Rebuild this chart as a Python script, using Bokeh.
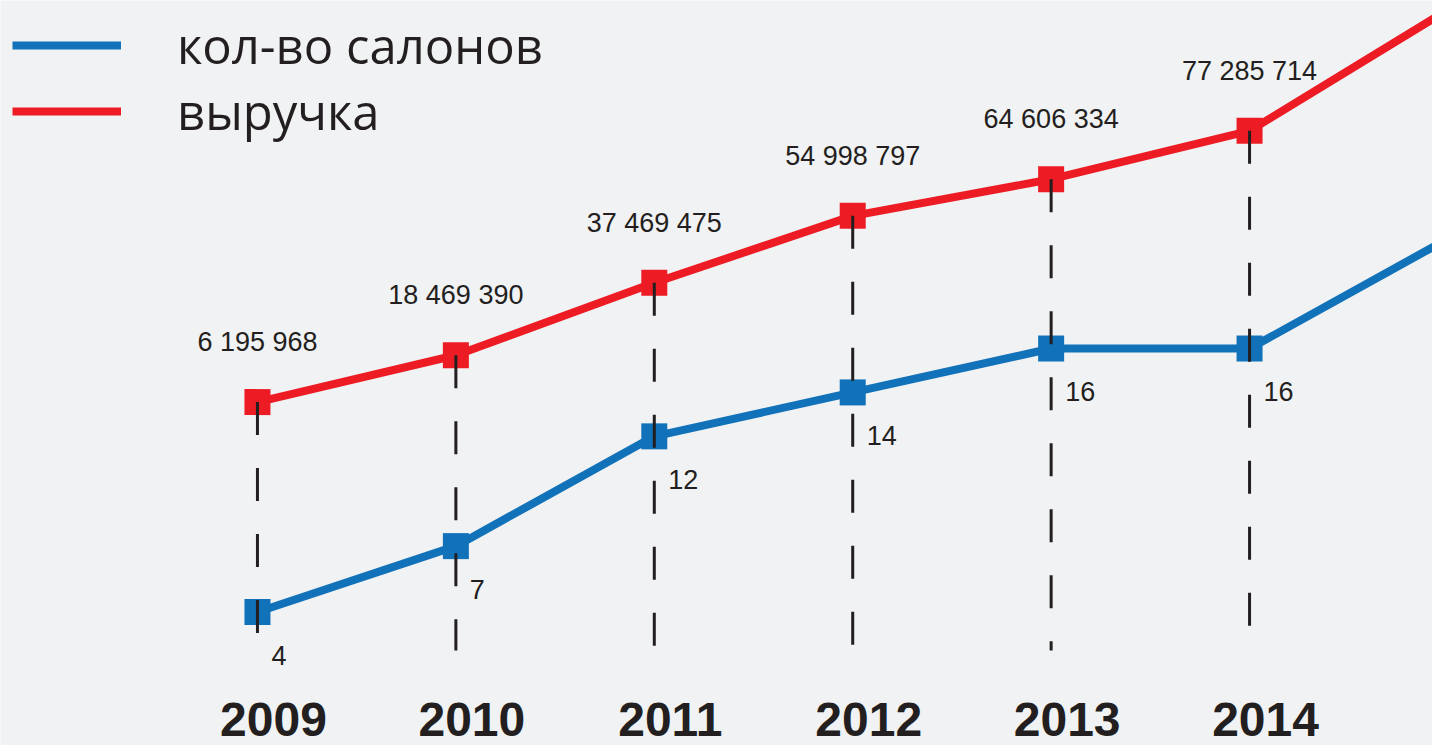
from bokeh.plotting import figure
from bokeh.models import Range1d, Legend, LegendItem
from bokeh.core.properties import value
from bokeh.embed import file_html
from bokeh.resources import INLINE

# ---- data ----
years = [2009, 2010, 2011, 2012, 2013, 2014]
salons = [4, 7, 12, 14, 16, 16]            # кол-во салонов
revenue = [6195968, 18469390, 37469475, 54998797, 64606334, 77285714]  # выручка
# both lines continue past the right edge; values estimated from the slope of the cut-off line
trend_year = 2015
salons_trend = 21
revenue_trend = 109000000
series_names = ["кол-во салонов", "выручка"]

# ---- style ----
BG = "#f1f2f4"
BLUE = "#1172ba"
RED = "#ed1c24"
DARK = "#231f20"

X_RANGE = (2007.705, 2014.922)
COUNT_RANGE = (-2.08, 31.85)
REV_RANGE = (-83.80e6, 111.44e6)
DASH_BOTTOM = -58.9e6

p = figure(width=1432, height=745, output_backend="svg", toolbar_location=None,
           x_range=Range1d(*X_RANGE), y_range=Range1d(*COUNT_RANGE),
           x_axis_location=None, y_axis_location=None, min_border=0,
           background_fill_color=BG, border_fill_color=BG, outline_line_color=None)
p.grid.visible = False
p.extra_y_ranges = {"rev": Range1d(*REV_RANGE)}

line_years = years + [trend_year]
blue_line = p.line(line_years, salons + [salons_trend], line_color=BLUE, line_width=8)
red_line = p.line(line_years, revenue + [revenue_trend], y_range_name="rev",
                  line_color=RED, line_width=8)
p.scatter(years, salons, marker="square", size=26, fill_color=BLUE, line_color=None)
p.scatter(years, revenue, marker="square", size=26, fill_color=RED, line_color=None,
          y_range_name="rev")

p.segment(x0=years, y0=revenue, x1=years, y1=[DASH_BOTTOM] * len(years),
          y_range_name="rev", line_color=DARK, line_width=3, line_dash="33 33")

rev_labels = [f"{v:,}".replace(",", " ") for v in revenue]
p.text(x=years, y=revenue, text=rev_labels, y_range_name="rev",
       text_align="center", text_baseline="alphabetic", y_offset=-60,
       text_font=value("Liberation Sans"), text_font_size="27px", text_color=DARK)
p.text(x=years, y=salons, text=[str(s) for s in salons],
       text_align="left", text_baseline="alphabetic", x_offset=14, y_offset=43,
       text_font=value("Liberation Sans"), text_font_size="27px", text_color=DARK)
p.text(x=years, y=[COUNT_RANGE[0]] * len(years), text=[str(y) for y in years],
       text_align="center", text_baseline="alphabetic", x_offset=16, y_offset=-26,
       text_font=value("Liberation Sans"), text_font_style="bold",
       text_font_size="48px", text_color=DARK)

legend = Legend(items=[LegendItem(label=series_names[0], renderers=[blue_line]),
                       LegendItem(label=series_names[1], renderers=[red_line])],
                location="top_left", label_text_font="Open Sans",
                label_text_font_size="49px", label_text_color=DARK,
                glyph_width=109, glyph_height=62, label_height=62,
                label_standoff=56, spacing=-1, padding=5, margin=12,
                border_line_color=None, background_fill_alpha=0)
p.add_layout(legend)

open("out.html", "w").write(file_html(p, INLINE))
